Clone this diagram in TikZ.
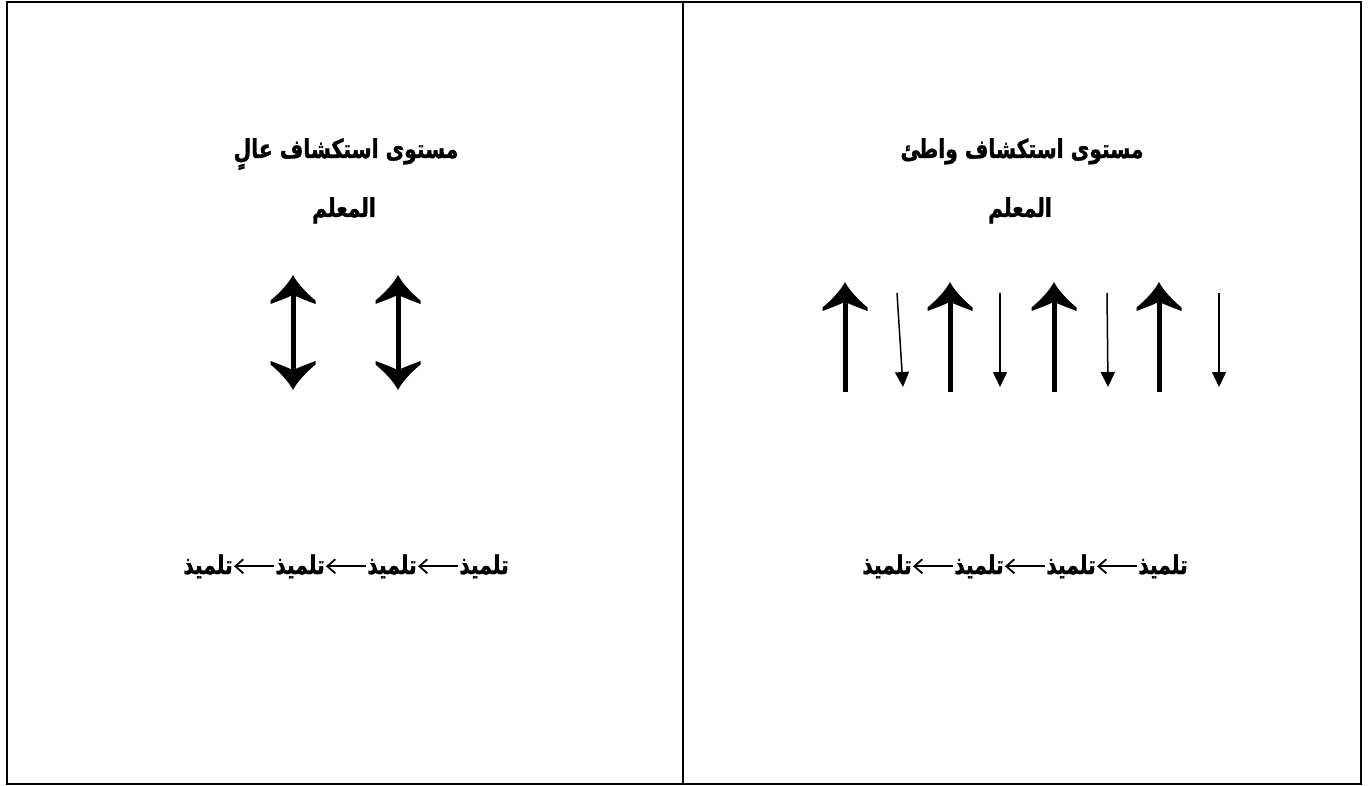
\documentclass[tikz,border=0pt]{standalone}
\usepackage{fontspec}
\usetikzlibrary{arrows.meta}
\TeXXeTstate=1
\newfontfamily\arabicfont[Script=Arabic, FakeStretch=0.78, BoldFeatures={FakeBold=1.3}]{DejaVu Sans}
\pgfdeclarearrow{
  name = WordHead,
  parameters = {\the\pgfarrowlength,\the\pgfarrowwidth},
  setup code = {
    \pgfarrowssettipend{0pt}
    \pgfarrowssetlineend{-.6\pgfarrowlength}
    \pgfarrowssetvisualbackend{-\pgfarrowlength}
    \pgfarrowssetbackend{-\pgfarrowlength}
    \pgfarrowshullpoint{0pt}{0pt}
    \pgfarrowshullpoint{-\pgfarrowlength}{.5\pgfarrowwidth}
    \pgfarrowshullpoint{-\pgfarrowlength}{-.5\pgfarrowwidth}
    \pgfarrowssavethe\pgfarrowlength
    \pgfarrowssavethe\pgfarrowwidth
  },
  drawing code = {
    \pgfpathmoveto{\pgfpointorigin}
    \pgfpathcurveto{\pgfpoint{-.3\pgfarrowlength}{.1\pgfarrowwidth}}{\pgfpoint{-.62\pgfarrowlength}{.3\pgfarrowwidth}}{\pgfpoint{-.88\pgfarrowlength}{.5\pgfarrowwidth}}
    \pgfpathlineto{\pgfpoint{-\pgfarrowlength}{.5\pgfarrowwidth}}
    \pgfpathcurveto{\pgfpoint{-.88\pgfarrowlength}{.3\pgfarrowwidth}}{\pgfpoint{-.78\pgfarrowlength}{.12\pgfarrowwidth}}{\pgfpoint{-.68\pgfarrowlength}{0pt}}
    \pgfpathcurveto{\pgfpoint{-.78\pgfarrowlength}{-.12\pgfarrowwidth}}{\pgfpoint{-.88\pgfarrowlength}{-.3\pgfarrowwidth}}{\pgfpoint{-\pgfarrowlength}{-.5\pgfarrowwidth}}
    \pgfpathlineto{\pgfpoint{-.88\pgfarrowlength}{-.5\pgfarrowwidth}}
    \pgfpathcurveto{\pgfpoint{-.62\pgfarrowlength}{-.3\pgfarrowwidth}}{\pgfpoint{-.3\pgfarrowlength}{-.1\pgfarrowwidth}}{\pgfpointorigin}
    \pgfpathclose
    \pgfusepathqfill
  },
  defaults = {length=29pt, width=45pt}
}
\tikzset{
  frame/.style={line width=2pt},
  title/.style={font=\arabicfont\bfseries\fontsize{26}{30}\selectfont, anchor=base, inner sep=0pt},
  word/.style={font=\arabicfont\bfseries\fontsize{26}{30}\selectfont, anchor=base, inner sep=0pt},
  bigdbl/.style={line width=5pt, {WordHead}-{WordHead}},
  bigup/.style={line width=5pt, -{WordHead}},
  smalldown/.style={line width=1.5pt, -{Triangle[length=15pt,width=14pt]}},
  chain/.style={line width=1.8pt, -{Straight Barb[length=8pt,width=14pt]}, shorten >=1pt, shorten <=1pt}
}
\begin{document}
\begin{tikzpicture}[x=1pt,y=-1pt]
\useasboundingbox (0,0) rectangle (1372,786);
% frame
\draw[frame] (7,2) rectangle (1361,784);
\draw[frame] (683,2) -- (683,784);
% left column
\node[title] (lt) at (346,158) {\beginR مستوى استكشاف عالٍ\endR};
\node[title] (lm) at (344,217) {\beginR المعلم\endR};
\coordinate (la1t) at (293,275); \coordinate (la1b) at (293,390);
\coordinate (la2t) at (398,275); \coordinate (la2b) at (398,390);
\draw[bigdbl] (la1b) -- (la1t);
\draw[bigdbl] (la2b) -- (la2t);
\node[word] (lw1) at (484,574) {\beginR تلميذ\endR};
\node[word] (lw2) at (392,574) {\beginR تلميذ\endR};
\node[word] (lw3) at (300,574) {\beginR تلميذ\endR};
\node[word] (lw4) at (208,574) {\beginR تلميذ\endR};
\draw[chain] (lw1.west) -- (lw2.east);
\draw[chain] (lw2.west) -- (lw3.east);
\draw[chain] (lw3.west) -- (lw4.east);
% right column
\node[title] (rt) at (1022,158) {\beginR مستوى استكشاف واطئ\endR};
\node[title] (rm) at (1020,217) {\beginR المعلم\endR};
\coordinate (ru1t) at (845,282); \coordinate (ru1b) at (845,392);
\coordinate (ru2t) at (950,282); \coordinate (ru2b) at (950,392);
\coordinate (ru3t) at (1054,282); \coordinate (ru3b) at (1054,392);
\coordinate (ru4t) at (1159,282); \coordinate (ru4b) at (1159,392);
\draw[bigup] (ru1b) -- (ru1t);
\draw[bigup] (ru2b) -- (ru2t);
\draw[bigup] (ru3b) -- (ru3t);
\draw[bigup] (ru4b) -- (ru4t);
\coordinate (rd1t) at (897,293); \coordinate (rd1b) at (903,387);
\coordinate (rd2t) at (1000,293); \coordinate (rd2b) at (1000,387);
\coordinate (rd3t) at (1107,293); \coordinate (rd3b) at (1108,387);
\coordinate (rd4t) at (1219,293); \coordinate (rd4b) at (1219,387);
\draw[smalldown] (rd1t) -- (rd1b);
\draw[smalldown] (rd2t) -- (rd2b);
\draw[smalldown] (rd3t) -- (rd3b);
\draw[smalldown] (rd4t) -- (rd4b);
\node[word] (rw1) at (1163,574) {\beginR تلميذ\endR};
\node[word] (rw2) at (1071,574) {\beginR تلميذ\endR};
\node[word] (rw3) at (979,574) {\beginR تلميذ\endR};
\node[word] (rw4) at (887,574) {\beginR تلميذ\endR};
\draw[chain] (rw1.west) -- (rw2.east);
\draw[chain] (rw2.west) -- (rw3.east);
\draw[chain] (rw3.west) -- (rw4.east);
\end{tikzpicture}
\end{document}
